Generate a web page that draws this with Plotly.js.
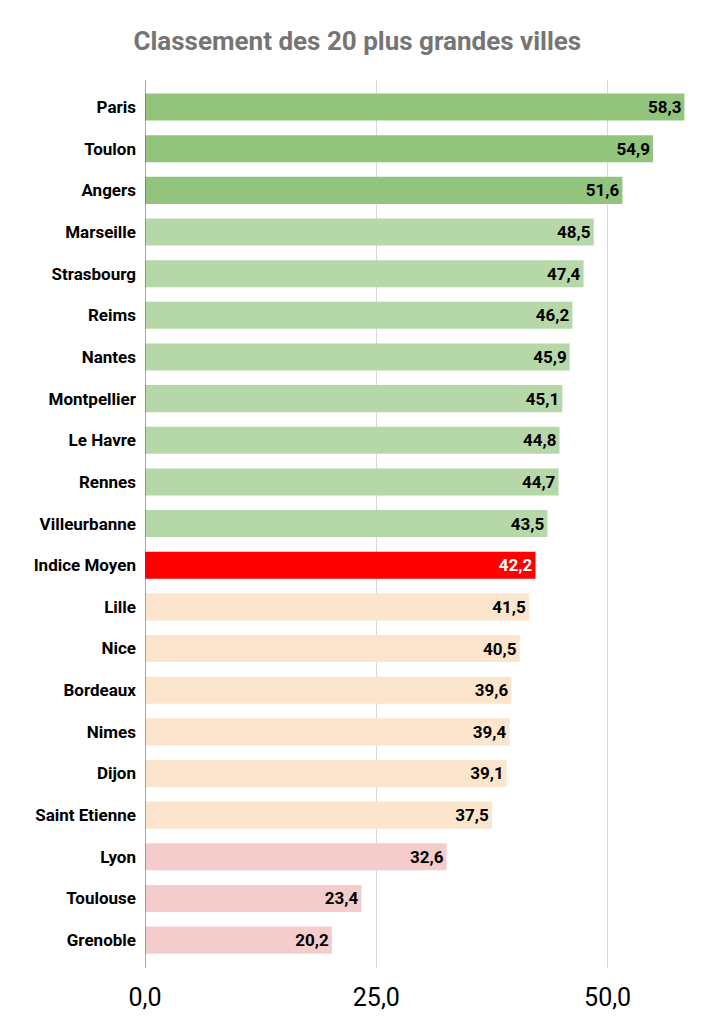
<!DOCTYPE html>
<html>
<head>
<meta charset="utf-8">
<script src="https://cdn.plot.ly/plotly-3.0.1.min.js"></script>
<style>html,body{margin:0;padding:0;background:#fff;}#chart{width:709px;height:1024px;}</style>
</head>
<body>
<div id="chart"></div>
<script>
const cities = ["Paris","Toulon","Angers","Marseille","Strasbourg","Reims","Nantes","Montpellier","Le Havre","Rennes","Villeurbanne","Indice Moyen","Lille","Nice","Bordeaux","Nimes","Dijon","Saint Etienne","Lyon","Toulouse","Grenoble"];
const scores = [58.3,54.9,51.6,48.5,47.4,46.2,45.9,45.1,44.8,44.7,43.5,42.2,41.5,40.5,39.6,39.4,39.1,37.5,32.6,23.4,20.2];
const groups = ["top","top","top","good","good","good","good","good","good","good","good","avg","mid","mid","mid","mid","mid","mid","low","low","low"];
const xTicks = [0,25,50];

const groupColor = {top:"#93c47d", good:"#b6d7a8", avg:"#ff0000", mid:"#fce5cd", low:"#f4cccc"};
const colors = groups.map(g => groupColor[g]);
const textColors = groups.map(g => g === "avg" ? "#ffffff" : "#000000");

const trace = {
  type: "bar",
  orientation: "h",
  y: cities,
  x: scores,
  marker: {color: colors},
  width: 0.65,
  text: scores.map(v => v.toFixed(1).replace(".", ",")),
  textposition: "inside",
  insidetextanchor: "end",
  textangle: 0,
  constraintext: "none",
  textfont: {family: "Roboto", size: 17, color: textColors, weight: "bold"},
  hoverinfo: "none",
  cliponaxis: false
};

const layout = {
  width: 709, height: 1024,
  margin: {l: 145, r: 7, t: 80, b: 56},
  paper_bgcolor: "#fff", plot_bgcolor: "#fff",
  showlegend: false,
  title: {text: "<b>Classement des 20 plus grandes villes</b>", x: 0.504, xanchor: "center", y: 0.96, yanchor: "middle",
          font: {family: "Roboto", size: 26, color: "#757575"}},
  xaxis: {
    range: [0, 60.2], tickvals: xTicks, ticktext: xTicks.map(v => v.toFixed(1).replace(".", ",")),
    showgrid: true, gridcolor: "#d9d9d9", gridwidth: 1,
    zeroline: false, showline: false, ticks: "",
    tickfont: {family: "Roboto", size: 25, color: "#000"}, ticklabelstandoff: 12
  },
  yaxis: {
    type: "category", categoryorder: "array", categoryarray: cities,
    range: [20.67, -0.65],
    showgrid: false, zeroline: false, showline: false, ticks: "",
    tickfont: {family: "Roboto", size: 17, color: "#000", weight: "bold"},
    ticklabelstandoff: 8
  },
  shapes: [{type: "line", xref: "x", yref: "paper", x0: 0, x1: 0, y0: 0, y1: 1, line: {color: "#555", width: 1}}]
};

Plotly.newPlot("chart", [trace], layout, {staticPlot: true, displayModeBar: false});
</script>
</body>
</html>
